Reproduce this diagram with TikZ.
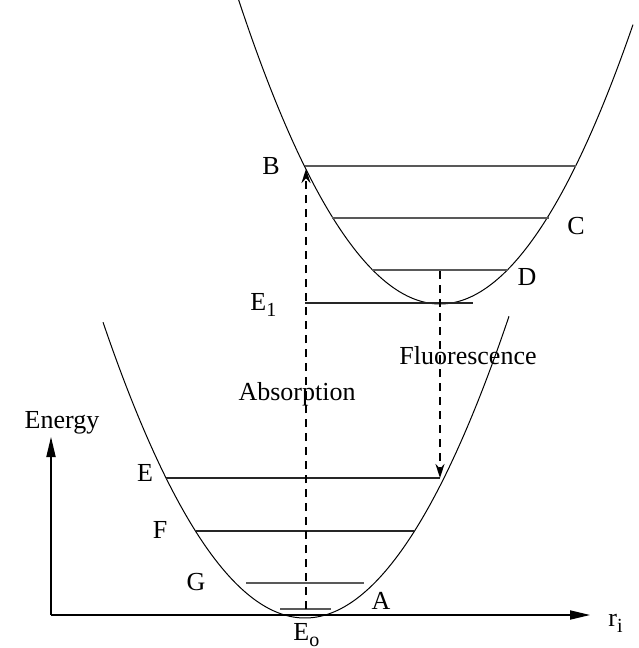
\documentclass[tikz,border=0pt]{standalone}
\usepackage{fontspec}
\setmainfont{Liberation Serif}
\usetikzlibrary{arrows.meta}
\newcommand{\lowsub}[1]{\raisebox{-3.2pt}{\fontsize{10}{10}\selectfont #1}}

\begin{document}
\begin{tikzpicture}[
    x=0.5pt,y=-0.5pt,
    font=\fontsize{13}{15}\selectfont,
    well/.style={line width=0.5pt},
    level/.style={line width=0.6pt,black!65},
    axis/.style={line width=0.6pt,-{Triangle[length=10pt,width=4.6pt]}},
    trans/.style={line width=0.8pt,dash pattern=on 4pt off 3pt,-{Stealth[length=7pt,width=4.5pt]}},
    lbl/.style={inner sep=0pt}
  ]
    \useasboundingbox (0,0) rectangle (638,648);

    % potential wells
    \draw[well] plot[domain=103:509,samples=80,smooth] (\x,{618-72.5*((\x-305)/100)^2});
    \draw[well] plot[domain=237:633,samples=80,smooth] (\x,{304-75*((\x-440)/100)^2});

    % axes
    \coordinate (origin) at (51,615);
    \coordinate (yend) at (51,437);
    \coordinate (xend) at (590,615);
    \draw[axis] (origin) -- (yend);
    \draw[axis] (origin) -- (xend);

    % vibrational levels, lower state
    \draw[level,black!85] (166,478) coordinate (eL) -- (440,478) coordinate (eR);
    \draw[level,black!85] (196,531) -- (414,531);
    \draw[level] (246,583) -- (364,583);
    \draw[level] (280,609) -- (331,609);
    \coordinate (g0) at (306,609);

    % vibrational levels, upper state
    \draw[level] (305,166) -- (576,166);
    \draw[level] (332,218) -- (549,218);
    \draw[level] (372,270) -- (508,270);
    \draw[level,black!85] (305,303) -- (473,303);
    \coordinate (bTop) at (306,169);
    \coordinate (dMid) at (440,271);

    % transitions
    \draw[trans] (g0) -- (bTop);
    \draw[trans] (dMid) -- (eR);

    \node[lbl] (energy) at (62,423) {Energy};
    \node[lbl,anchor=base west] (ri) at (608,626) {r\lowsub{i}};
    \node[lbl] (lB) at (271,166) {B};
    \node[lbl] (lC) at (576,226) {C};
    \node[lbl] (lD) at (527,277) {D};
    \node[lbl,anchor=base west] (lE1) at (250,310) {E\lowsub{1}};
    \node[lbl] (lE) at (145,473) {E};
    \node[lbl] (lF) at (160,530) {F};
    \node[lbl] (lG) at (196,582) {G};
    \node[lbl] (lA) at (381,601) {A};
    \node[lbl,anchor=base west] (lE0) at (293,640) {E\lowsub{o}};
    \node[lbl] (absorb) at (297,394) {Absorption};
    \node[lbl] (fluor) at (468,356) {Fluorescence};
\end{tikzpicture}
\end{document}
